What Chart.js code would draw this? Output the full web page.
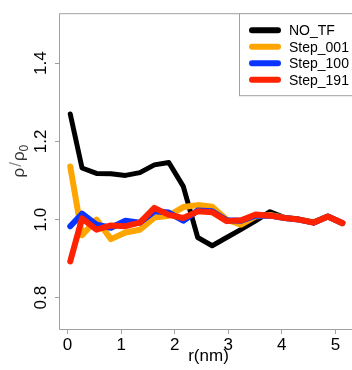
<!DOCTYPE html>
<html>
<head>
<meta charset="utf-8">
<script src="https://cdn.jsdelivr.net/npm/chart.js@4"></script>
<style>
  body { margin: 0; background: #fff; }
  #wrap { width: 352px; height: 370px; }
</style>
</head>
<body>
<div id="wrap"><canvas id="rhoChart" width="352" height="370"></canvas></div>
<script>
// r values (nm)
const rValues = [0.05, 0.27, 0.54, 0.81, 1.08, 1.35, 1.62, 1.89, 2.16, 2.43, 2.70, 2.97, 3.24, 3.51, 3.78, 4.05, 4.32, 4.59, 4.86, 5.13];

// rho / rho0 for each run
const noTF    = [1.270, 1.132, 1.118, 1.117, 1.113, 1.120, 1.140, 1.146, 1.085, 0.954, 0.933, 0.954, 0.975, 0.997, 1.020, 1.005, 1.000, 0.993, 1.008, 0.990];
const step001 = [1.136, 0.960, 1.000, 0.950, 0.967, 0.974, 1.005, 1.010, 1.032, 1.037, 1.033, 1.000, 0.987, 1.008, 1.012, 1.005, 1.000, 0.993, 1.008, 0.990];
const step100 = [0.983, 1.015, 0.987, 0.979, 0.997, 0.992, 1.021, 1.018, 0.997, 1.023, 1.021, 0.998, 0.997, 1.010, 1.010, 1.004, 1.000, 0.992, 1.008, 0.991];
const step191 = [0.893, 1.003, 0.974, 0.985, 0.983, 0.992, 1.030, 1.012, 1.004, 1.021, 1.019, 0.996, 0.998, 1.013, 1.010, 1.004, 1.000, 0.992, 1.008, 0.991];

const seriesNames = ['NO_TF', 'Step_001', 'Step_100', 'Step_191'];
const seriesColors = ['#000000', '#ffa500', '#0a34ff', '#ff2200'];

const xTicks = [0, 1, 2, 3, 4, 5];
const yTicks = [0.8, 1.0, 1.2, 1.4];

const axisGray = '#a0a0a0';
const tickFont = { family: 'Liberation Sans, Arial, sans-serif', size: 17 };

function toPoints(vals) {
    return vals.map((v, i) => ({ x: rValues[i], y: v }));
}

const allSeries = [noTF, step001, step100, step191];
const datasets = allSeries.map((vals, i) => ({
    label: seriesNames[i],
    data: toPoints(vals),
    borderColor: seriesColors[i],
    borderWidth: i === 0 ? 5 : 6,
    pointRadius: 0,
    tension: 0,
    borderCapStyle: 'round',
    borderJoinStyle: 'round',
    order: 3 - i  // red on top, black at the bottom
}));

// frame, rotated y labels, axis titles and legend box (R base-graphics look)
const decorPlugin = {
    id: 'decor',
    afterDraw(chart) {
        const ctx = chart.ctx;
        const area = chart.chartArea;
        const yScale = chart.scales.y;
        ctx.save();

        // open-right frame
        ctx.strokeStyle = axisGray;
        ctx.lineWidth = 1;
        ctx.beginPath();
        ctx.moveTo(chart.width, area.top + 0.5);
        ctx.lineTo(area.left + 0.5, area.top + 0.5);
        ctx.lineTo(area.left + 0.5, area.bottom + 0.5);
        ctx.lineTo(chart.width, area.bottom + 0.5);
        ctx.stroke();

        // y tick labels, rotated like R's las=0
        ctx.fillStyle = '#000';
        ctx.font = '17px "Liberation Sans", Arial, sans-serif';
        ctx.textAlign = 'center';
        ctx.textBaseline = 'middle';
        yTicks.forEach(v => {
            const py = yScale.getPixelForValue(v);
            ctx.save();
            ctx.translate(area.left - 18, py);
            ctx.rotate(-Math.PI / 2);
            ctx.fillText(v.toFixed(1), 0, 0);
            ctx.restore();
        });

        // y title: rho / rho0
        ctx.save();
        ctx.translate(19, (area.top + area.bottom) / 2 - 10);
        ctx.rotate(-Math.PI / 2);
        ctx.textBaseline = 'alphabetic';
        ctx.textAlign = 'left';
        const big = '17px "Liberation Sans", Arial, sans-serif';
        const small = '12px "Liberation Sans", Arial, sans-serif';
        ctx.font = big;
        const w1 = ctx.measureText('ρ').width;
        const w2 = ctx.measureText('/').width;
        const w3 = ctx.measureText('ρ').width;
        ctx.font = small;
        const w4 = ctx.measureText('0').width;
        let x0 = -(w1 + w2 + w3 + w4 + 2) / 2;
        ctx.font = big;
        ctx.fillStyle = '#333';
        ctx.fillText('ρ', x0, 5);
        ctx.fillStyle = '#888';
        ctx.fillText('/', x0 + w1 + 1, 2);
        ctx.fillStyle = '#333';
        ctx.fillText('ρ', x0 + w1 + w2 + 2, 5);
        ctx.font = small;
        ctx.fillText('0', x0 + w1 + w2 + w3 + 2, 9);
        ctx.restore();

        // x title
        ctx.font = '17px "Liberation Sans", Arial, sans-serif';
        ctx.fillStyle = '#000';
        ctx.textAlign = 'center';
        ctx.textBaseline = 'middle';
        ctx.fillText('r(nm)', (area.left + chart.width) / 2 + 3, 356);

        // legend box
        const lx = 239, ly = area.top, lw = 120, lh = 82;
        ctx.fillStyle = '#fff';
        ctx.fillRect(lx, ly, lw, lh);
        ctx.strokeStyle = axisGray;
        ctx.lineWidth = 1;
        ctx.strokeRect(lx + 0.5, ly + 0.5, lw, lh);
        ctx.font = '14px "Liberation Sans", Arial, sans-serif';
        ctx.textAlign = 'left';
        chart.data.datasets.forEach((ds, i) => {
            const rowY = ly + 17 + i * 16.5;
            ctx.strokeStyle = ds.borderColor;
            ctx.lineWidth = 6;
            ctx.lineCap = 'round';
            ctx.beginPath();
            ctx.moveTo(252, rowY);
            ctx.lineTo(278, rowY);
            ctx.stroke();
            ctx.fillStyle = '#000';
            ctx.fillText(ds.label, 289, rowY + 1);
        });

        ctx.restore();
    }
};

new Chart(document.getElementById('rhoChart').getContext('2d'), {
    type: 'line',
    data: { datasets: datasets },
    options: {
        responsive: false,
        animation: false,
        layout: { padding: { top: 13, right: 0, left: 0, bottom: 0 } },
        plugins: {
            legend: { display: false },
            tooltip: { enabled: false }
        },
        scales: {
            x: {
                type: 'linear',
                min: -0.16,
                max: 5.31,
                afterBuildTicks: s => { s.ticks = xTicks.map(v => ({ value: v })); },
                afterFit: s => { s.height = 41; },
                grid: { drawOnChartArea: false, drawTicks: true, tickLength: 5, color: axisGray },
                border: { display: false },
                ticks: { color: '#000', font: tickFont, padding: 1, maxRotation: 0, autoSkip: false }
            },
            y: {
                type: 'linear',
                min: 0.72,
                max: 1.528,
                afterBuildTicks: s => { s.ticks = yTicks.map(v => ({ value: v })); },
                afterFit: s => { s.width = 59; },
                grid: { drawOnChartArea: false, drawTicks: true, tickLength: 4, color: axisGray },
                border: { display: false },
                ticks: { color: 'rgba(0,0,0,0)', font: tickFont }
            }
        }
    },
    plugins: [decorPlugin]
});
</script>
</body>
</html>
